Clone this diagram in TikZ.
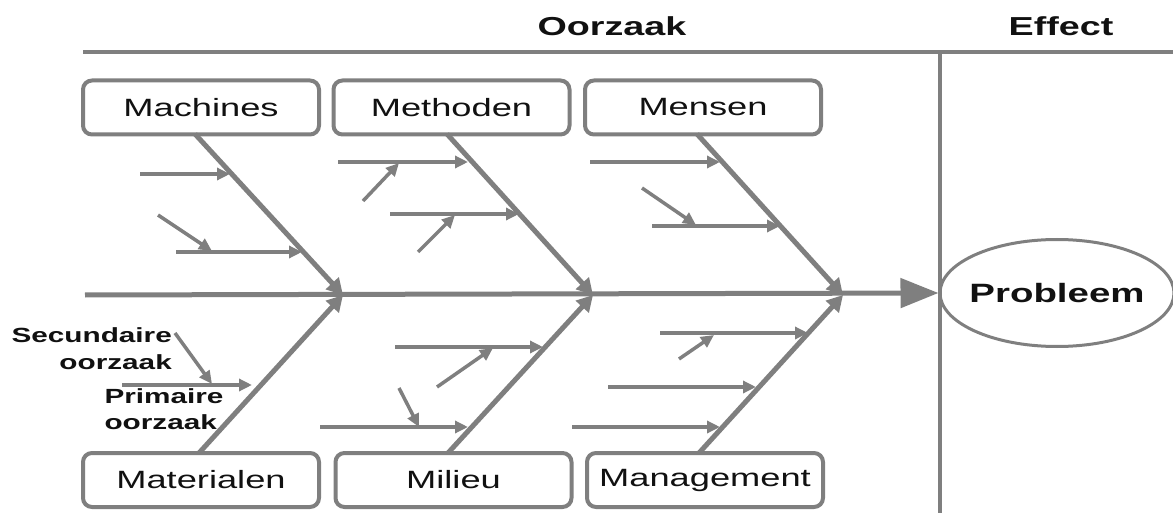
\documentclass[tikz,border=0pt]{standalone}
\usepackage{fontspec}
\usetikzlibrary{arrows.meta,shapes.geometric}
\newfontfamily\arialx[FakeStretch=1.45]{Liberation Sans}
\definecolor{fgray}{HTML}{7F7F7F}
\definecolor{ftext}{HTML}{111111}
\tikzset{
  catbox/.style={draw=fgray, line width=4pt, rounded corners=9pt, fill=white,
    minimum width=236pt, minimum height=54pt, inner sep=0pt, text=ftext,
    font=\arialx\fontsize{25}{30}\selectfont},
  bone/.style={draw=fgray, line width=5pt, -{Triangle[length=16pt,width=17pt]}},
  cause/.style={draw=fgray, line width=3.5pt, -{Triangle[length=13pt,width=12pt]}},
  frame/.style={draw=fgray, line width=4pt},
  head/.style={text=ftext, font=\arialx\bfseries\fontsize{26}{30}\selectfont, inner sep=0pt},
  note/.style={text=ftext, font=\arialx\bfseries\fontsize{20.5}{26.5}\selectfont, inner sep=0pt},
}
\begin{document}
\begin{tikzpicture}[x=1pt,y=-1pt]
\useasboundingbox (0,0) rectangle (1173,513);
% frame
\coordinate (tl) at (83,52);
\coordinate (tr) at (1173,52);
\coordinate (vt) at (940,52);
\coordinate (vb) at (940,513);
\draw[frame] (tl) -- (tr);
\draw[frame] (vt) -- (vb);
\node[head] (oorz) at (612,26) {Oorzaak};
\node[head] (eff) at (1061,26) {Effect};
% problem
\node[ellipse, draw=fgray, line width=3pt, minimum width=234pt, minimum height=107pt, inner sep=0pt] (prob) at (1057,293) {};
\node[text=ftext, font=\arialx\bfseries\fontsize{26.5}{30}\selectfont, inner sep=0pt] (probt) at (prob.center) {Probleem};
% spine
\coordinate (s0) at (85,295);
\coordinate (j1) at (343,295);
\coordinate (j2) at (593,295);
\coordinate (j3) at (843,295);
\draw[draw=fgray, line width=5pt, -{Triangle[length=38pt,width=29pt]}] (s0) -- (prob.west);
% boxes
\node[catbox] (mach) at (201,107.5) {Machines};
\node[catbox] (meth) at (451.5,107.5) {Methoden};
\node[catbox] (mens) at (703,107.5) {Mensen};
\node[catbox] (mat) at (201,480) {Materialen};
\node[catbox] (mil) at (453.5,480) {Milieu};
\node[catbox] (man) at (705,480) {Management};
% bones
\coordinate (b1) at (195,134);
\coordinate (b2) at (447,134);
\coordinate (b3) at (697,134);
\coordinate (b4) at (199,453);
\coordinate (b5) at (448,453);
\coordinate (b6) at (699,453);
\draw[bone] (b1) -- (j1);
\draw[bone] (b2) -- (j2);
\draw[bone] (b3) -- (j3);
\draw[bone] (b4) -- (j1);
\draw[bone] (b5) -- (j2);
\draw[bone] (b6) -- (j3);
% Machines causes
\coordinate (ma1s) at (140,174); \coordinate (ma1e) at (230,174);
\coordinate (ma2s) at (176,252); \coordinate (ma2e) at (302,252);
\coordinate (ma3s) at (158,215); \coordinate (ma3e) at (212,251);
\draw[cause] (ma1s) -- (ma1e);
\draw[cause] (ma2s) -- (ma2e);
\draw[cause] (ma3s) -- (ma3e);
% Methoden causes
\coordinate (me1s) at (338,162); \coordinate (me1e) at (468,162);
\coordinate (me2s) at (363,201); \coordinate (me2e) at (399,163);
\coordinate (me3s) at (390,214); \coordinate (me3e) at (519,214);
\coordinate (me4s) at (418,252); \coordinate (me4e) at (455,215);
\draw[cause] (me1s) -- (me1e);
\draw[cause] (me2s) -- (me2e);
\draw[cause] (me3s) -- (me3e);
\draw[cause] (me4s) -- (me4e);
% Mensen causes
\coordinate (mn1s) at (590,162); \coordinate (mn1e) at (720,162);
\coordinate (mn2s) at (642,188); \coordinate (mn2e) at (696,225);
\coordinate (mn3s) at (652,226); \coordinate (mn3e) at (780,226);
\draw[cause] (mn1s) -- (mn1e);
\draw[cause] (mn2s) -- (mn2e);
\draw[cause] (mn3s) -- (mn3e);
% Materialen causes
\coordinate (mt1s) at (122,385); \coordinate (mt1e) at (252,385);
\coordinate (mt2s) at (175,333); \coordinate (mt2e) at (212,384);
\draw[cause] (mt1s) -- (mt1e);
\draw[cause] (mt2s) -- (mt2e);
\node[note, align=right, anchor=east] (sec) at (172,348.5) {Secundaire\\oorzaak};
\node[note, align=left] (prim) at (164,409) {Primaire\\oorzaak};
% Milieu causes
\coordinate (mi1s) at (395,347); \coordinate (mi1e) at (543,347);
\coordinate (mi2s) at (437,387); \coordinate (mi2e) at (493,348);
\coordinate (mi3s) at (320,427); \coordinate (mi3e) at (468,427);
\coordinate (mi4s) at (399,388); \coordinate (mi4e) at (419,427);
\draw[cause] (mi1s) -- (mi1e);
\draw[cause] (mi2s) -- (mi2e);
\draw[cause] (mi3s) -- (mi3e);
\draw[cause] (mi4s) -- (mi4e);
% Management causes
\coordinate (mg1s) at (660,333); \coordinate (mg1e) at (808,333);
\coordinate (mg2s) at (679,359); \coordinate (mg2e) at (714,335);
\coordinate (mg3s) at (608,387); \coordinate (mg3e) at (756,387);
\coordinate (mg4s) at (572,427); \coordinate (mg4e) at (720,427);
\draw[cause] (mg1s) -- (mg1e);
\draw[cause] (mg2s) -- (mg2e);
\draw[cause] (mg3s) -- (mg3e);
\draw[cause] (mg4s) -- (mg4e);
\end{tikzpicture}
\end{document}
